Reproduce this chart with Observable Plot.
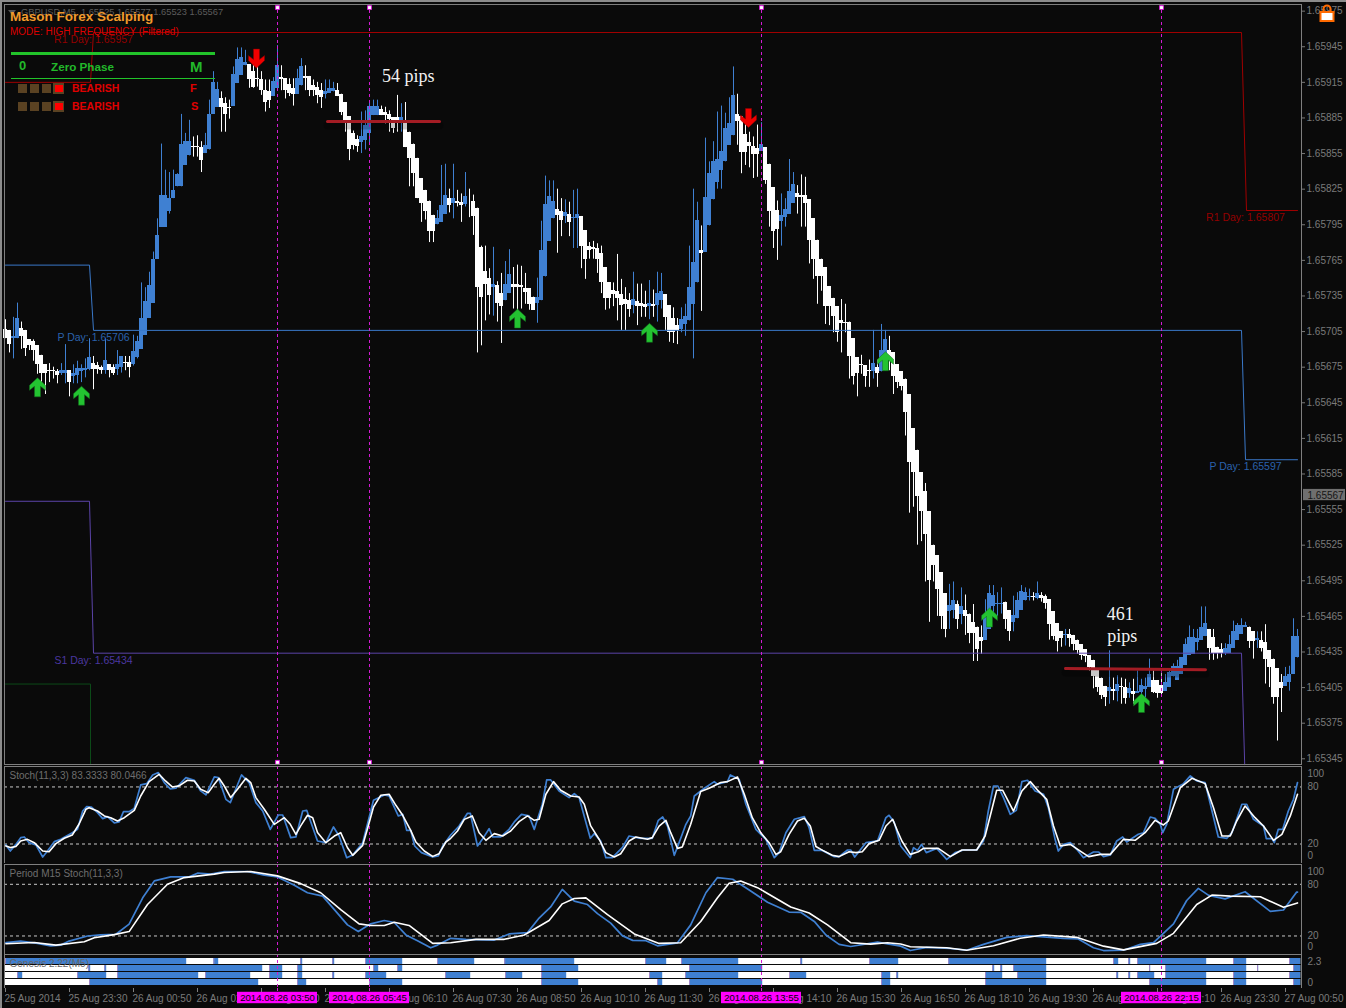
<!DOCTYPE html>
<html>
<head>
<meta charset="utf-8">
<script src="https://cdn.jsdelivr.net/npm/d3@7"></script>
<script src="https://cdn.jsdelivr.net/npm/@observablehq/plot@0.6"></script>
<style>
html,body{margin:0;padding:0;background:#0a0a0a;width:1346px;height:1008px;overflow:hidden;font-family:"Liberation Sans",Arial,sans-serif}
#chart{position:relative;width:1346px;height:1008px}
.p{position:absolute;left:0}
.t{position:absolute;white-space:nowrap;line-height:1}
.b{position:absolute}
</style>
</head>
<body>
<div id="chart"></div>
<script>
// ---- candles: points above 1.65000, one value per 5-minute bar ----
const open=[707,706,699,699,708,706,698,697,693,685,
677,672,672,671,670,670,672,667,668,671,
672,673,678,676,675,672,677,675,673,675,
679,679,677,683,690,702,716,729,766,793,
793,806,817,827,827,845,853,861,861,860,
855,858,888,894,901,897,894,895,914,921,
929,930,924,918,917,908,907,903,910,919,
918,913,910,905,912,920,920,912,911,908,
905,906,907,908,905,898,886,872,867,864,
866,872,887,887,892,890,888,885,885,883,
882,873,863,851,834,824,815,803,795,797,
804,817,813,815,814,812,815,815,809,776,
756,750,742,744,737,731,737,745,745,744,
741,741,734,729,731,751,781,800,808,806,
802,804,800,800,802,790,777,776,775,771,
759,746,740,739,736,732,731,727,730,729,
728,726,728,727,731,736,727,716,710,707,
711,714,728,746,773,772,794,816,831,841,
848,862,870,888,886,871,864,861,859,857,
860,846,826,807,798,801,804,813,821,820,
820,816,800,782,766,759,743,733,726,714,
713,713,699,683,677,676,672,671,675,671,
672,689,687,677,671,665,652,623,605,586,
570,553,525,516,502,484,469,470,475,467,
470,467,460,456,447,445,454,473,475,475,
477,470,460,463,470,478,481,482,480,483,
482,479,469,459,452,449,450,449,445,441,
437,432,428,421,413,406,402,403,402,406,
405,400,402,400,401,403,405,411,411,407,
402,405,414,411,416,424,432,433,443,445,
448,454,447,439,437,434,434,438,445,450,
456,456,452,445,445,443,436,429,421,409,
406,409,416,430];
const close=[699,694,701,716,701,691,693,689,677,670,
670,671,671,668,672,672,662,670,674,674,
674,683,673,673,672,681,672,670,677,684,
678,675,688,697,716,730,744,766,786,820,
820,817,824,837,863,865,865,860,860,849,
862,888,915,909,894,888,893,922,934,936,
932,917,911,917,908,898,900,916,929,917,
908,906,905,918,928,918,908,908,904,902,
907,910,910,903,890,882,858,862,861,869,
879,895,895,895,887,887,884,876,883,885,
860,851,838,817,813,806,789,789,800,811,
820,811,817,813,811,819,815,802,742,734,
745,735,745,729,726,745,753,742,742,742,
738,728,723,734,773,812,819,815,803,799,
805,797,801,804,777,766,773,774,766,746,
733,733,736,733,727,728,724,732,726,726,
725,729,726,737,739,717,704,704,706,715,
718,742,763,799,771,818,838,848,850,857,
876,880,904,882,856,856,861,854,854,863,
832,806,789,791,803,808,823,829,818,818,
813,782,766,751,751,726,726,718,704,712,
712,684,667,670,676,667,671,678,670,689,
698,683,667,662,659,637,595,586,566,553,
534,495,508,488,465,454,474,478,462,473,
465,451,451,437,444,464,484,483,476,476,
462,452,466,478,486,485,482,481,484,480,
476,458,448,444,446,450,446,441,436,432,
431,422,414,405,398,397,405,402,408,405,
396,404,399,402,407,406,416,401,400,400,
409,418,423,423,430,441,447,447,446,456,
459,438,434,434,434,438,441,452,457,457,
457,444,444,446,438,429,422,397,397,404,
414,416,448,448];
const high=[715,706,717,729,713,706,698,698,693,685,
677,678,675,673,678,694,672,677,680,677,
682,699,684,679,676,699,677,677,689,684,
684,684,702,701,746,742,755,772,800,863,
841,839,841,838,888,872,883,869,870,865,
872,900,924,915,907,902,900,928,944,944,
942,930,931,931,924,917,917,919,946,929,
918,918,918,926,935,929,920,917,915,914,
917,917,915,914,905,898,886,874,870,890,
891,898,900,900,895,894,891,885,904,897,
898,873,863,851,834,824,815,803,807,845,
846,825,846,824,821,839,825,820,809,777,
777,758,776,747,754,764,774,759,761,760,
754,741,734,750,798,836,832,832,825,817,
816,814,824,825,802,790,780,781,779,777,
759,746,746,770,749,742,737,755,745,745,
739,748,740,755,754,736,727,725,716,725,
728,777,825,814,794,868,848,865,890,895,
889,902,928,905,886,880,873,869,879,881,
860,846,826,815,821,817,850,839,828,837,
835,816,800,782,766,759,743,733,726,732,
728,713,699,683,685,676,681,706,681,711,
706,701,687,677,671,665,652,623,605,586,
577,553,525,516,502,484,492,494,478,489,
483,467,475,456,457,479,491,491,485,489,
477,470,482,485,491,489,488,485,494,485,
483,479,469,459,452,454,454,449,445,441,
437,432,428,421,413,406,436,413,415,413,
412,409,412,419,412,413,429,419,411,417,
416,419,425,428,430,446,457,454,454,473,
473,454,454,439,442,442,449,461,459,463,
460,456,452,452,452,458,436,429,421,416,
422,423,463,454];
const low=[699,687,682,699,690,684,689,680,669,662,
652,662,665,661,668,661,650,661,661,662,
666,672,656,669,669,669,666,668,668,670,
672,666,676,682,690,702,716,729,766,793,
793,804,817,827,827,845,853,852,852,839,
855,858,888,894,873,873,884,895,914,921,
929,910,910,911,904,890,893,903,910,908,
901,903,895,905,912,908,903,903,897,893,
901,906,907,903,887,873,849,858,856,855,
858,863,887,887,887,880,873,872,873,873,
860,827,827,817,797,799,780,780,795,797,
804,805,800,810,797,810,801,786,687,693,
714,719,718,713,695,731,737,724,723,724,
728,723,723,712,731,751,781,800,771,785,
796,785,775,775,758,749,766,766,754,737,
723,724,726,714,706,706,717,720,710,717,
717,715,717,713,724,706,696,695,694,704,
701,714,682,746,722,772,794,816,825,825,
848,862,870,862,838,845,843,834,835,857,
829,793,775,765,777,793,804,813,804,793,
793,762,749,728,739,711,710,704,696,687,
704,665,660,650,669,658,658,665,658,671,
672,672,652,657,655,617,552,557,525,528,
494,460,494,465,454,447,454,463,454,458,
449,442,427,427,433,445,454,467,465,467,
454,444,452,463,470,478,478,478,479,477,
471,445,445,435,439,440,439,436,433,428,
426,419,404,401,395,389,391,394,393,391,
391,396,391,400,398,396,405,400,396,397,
402,405,414,411,416,424,432,433,436,445,
448,428,428,429,430,432,434,438,445,450,
456,438,429,438,435,408,405,391,360,384,
406,402,416,430];

// price axis, bars of the pivots, arrows, time labels
const priceTicks=[345,375,405,435,465,495,525,555,585,615,645,675,705,735,765,795,825,855,885,915,945,975];
const r1Bars=[0,21.25,22,309,310.25,323], r1Price=[915,915,957,957,807,807];
const pBars=[0,21,22,309,310,323], pPrice=[761,761,706,706,597,597];
const s1Bars=[0,21,22,309,309.8], s1Price=[562,562,434,434,340];
const s2Bars=[0,21.25,21.25], s2Price=[408,408,340];
const pivotText=["R1 Day: 1.65957","R1 Day: 1.65807","P Day: 1.65706","P Day: 1.65597","S1 Day: 1.65434"];
const pivotTextBars=[22,310,22,310,22];
const pivotTextPrice=[957,807,706,597,434];
const pivotTextColor=["#930000","#930000","#2a62ad","#2a62ad","#4a37a0"];
const upArrowBars=[8,19,128,161,220,246,284], upArrowPrice=[658,651,716,704,680,464,392];
const downArrowBars=[62.75,185.75], downArrowPrice=[935,885];
const trendA={bars:[80.5,108.5],price:[882,882]};
const trendB={bars:[265,300],price:[421,420]};
const noteText=["54 pips","461","pips"], noteBars=[100.7,278.7,279.2], notePrice=[920,467,448];
const sessionBars=[68,91,189,289];
const sessionText=["2014.08.26 03:50","2014.08.26 05:45","2014.08.26 13:55","2014.08.26 22:15"];
const timeBars=[0,16,32,48,64,80,96,112,128,144,160,176,192,208,224,240,256,272,288,304,320];
const timeText=["25 Aug 2014","25 Aug 23:30","26 Aug 00:50","26 Aug 02:10","26 Aug 03:30","26 Aug 04:50","26 Aug 06:10","26 Aug 07:30","26 Aug 08:50","26 Aug 10:10","26 Aug 11:30","26 Aug 12:50","26 Aug 14:10","26 Aug 15:30","26 Aug 16:50","26 Aug 18:10","26 Aug 19:30","26 Aug 20:50","26 Aug 22:10","26 Aug 23:30","27 Aug 00:50"];

// Stoch(11,3,3)
const kBars=[0.1,1.2,2.6,3.8,4.7,5.9,7.6,9.3,10.5,12.2,13.8,16.7,18,19.3,20.3,21.5,23,24.3,25.5,27.2,28.4,29.5,30.9,32.2,33.8,35.3,36.8,38.2,39.7,41.2,42.6,45.1,47.2,48.8,50.1,52.2,53.2,55.1,56.2,59,60.9,62.6,64.3,66.2,68.2,69.3,71.3,72.6,74.3,75.3,78,80.1,82,83.4,85.3,86.8,89.3,92,94.7,95.9,98.2,99.3,100.3,101.3,102.3,104,106.8,108.2,109.3,111.3,113.4,115.5,116.2,118,119.2,120.9,121.8,123.8,125.9,127.2,129,130.9,132.2,134.2,135.3,136.3,138.4,140.9,142.2,143.4,146.2,147.2,148.8,150.1,151.7,154.2,155.9,158.8,161.7,163.2,164.3,165.5,167.2,168.4,170.1,171.3,172.2,174.7,177.2,178,180.5,181.2,183.4,185.1,187.6,190.1,192.2,193.4,195.1,197.2,199.7,200.9,202.2,204.2,207.2,208.4,210.5,211.3,212.3,215.1,218,220.1,220.9,222.2,223.8,226.2,227,228,229,230.2,232.8,235.3,237.4,239.5,242.8,244.5,245.7,247,248.1,249.5,251.2,252.7,254.1,255.5,257.4,259.5,260.7,262.4,263.2,264.5,266.2,267.8,269.5,272,273.3,274.5,276.2,277.8,279.3,280.3,283.2,284.5,286.2,287.4,288.7,289.3,290.3,292,294.5,296.2,297.8,299.9,303.2,305.3,306.6,309.1,310.3,312,314.5,315.2,316.6,317.2,318.2,319.3,320.7,322,323];
const kVal=[19,12.6,19.6,26.7,27.4,21.4,19,6.3,12.6,22.5,24.9,31.9,35.4,54.7,59.3,58.9,53,46.7,48.8,42.1,43.2,54,54,57.5,82.1,83.5,92.6,95.1,84.6,77.9,78.6,89.8,87,75.8,71.6,90.5,89.8,67,63.5,92.6,84.6,63.5,54.7,35.4,50.5,50.5,26.7,27.4,54.7,55.4,23.2,21.4,37.9,28.4,5.6,8.4,21.4,66,71.6,70.5,49.5,51.2,34.4,34.4,17.9,10.9,6.3,7.4,17.9,29.5,38.9,52.3,52.3,17.9,24.9,36.1,27.4,27.4,35.4,43.2,51.2,49.5,35.4,61.8,87.4,87.4,75.8,68.8,73,68.8,26,30.9,23.2,5.6,5.6,16.1,28.4,26,26,44.9,48.4,38.9,8.1,21.4,40.7,49.5,70.5,78.6,85.6,82.8,85.6,92.6,88.1,61.8,35.4,24.9,5.6,10.9,31.9,46,48.8,37.2,13.3,13.3,6.7,6.7,13.7,13.7,6.3,21.4,23.2,47.7,50.2,42.5,17.9,5.6,16.1,13.3,19.6,10.9,15.4,3.9,10.9,13.7,13.7,23.2,54.7,81,81,68.8,51.2,55.4,85.6,87,75.8,72.3,58.2,24.9,12.6,19.6,21.4,14.4,5.6,11.6,11.6,6.7,8.4,23.2,27.4,22.1,30.2,31.9,48.4,47,40.7,31.9,40.7,77.5,83.5,91.6,86.3,84.6,27.4,26,31.9,61.8,61.8,46,38.9,25.6,25.6,21.4,35.4,35.4,54.7,67,84.6];
const dBars=[0.1,1.2,2.6,3.8,5.5,7.2,9.3,10.9,12.6,14.7,16.7,18.4,20.1,20.9,23,24.7,26.3,28,29.7,32.2,33.8,35.9,38.4,40,41.7,43.4,45.5,47.2,48.8,50.7,52.2,53.4,54.7,56.3,58,60.1,61.3,62.6,64.7,67.2,69.7,71.2,72.6,73.8,75.5,76.8,78,80.1,82.2,83.8,85.5,86.8,89.3,90.5,92,93.8,95.9,97.6,99.3,101.3,102.6,104.7,106.8,108.4,110.1,111.3,113,114.7,116.7,118.4,120.1,122.2,124.3,126.3,128.4,130.5,132.2,133.4,135.1,137,138.8,141.3,143.4,144.7,146.3,148.4,150.1,152.2,153.8,155.9,157.6,160.5,161.7,163.4,165.1,166.3,168,169.2,171.3,173.8,175.9,178.8,180.5,183,184.7,186.7,188.8,190.9,192.6,193.8,195.9,198,199.7,201.2,202.6,204.3,206.7,208.4,210.9,212.6,214.2,215.9,218.4,220.1,221.8,223,224.1,226.2,228.2,229.5,233.2,236.2,239.1,242.8,244.9,246.6,247.8,249.3,252,254.1,256.2,258.2,260.3,262,263.7,266.2,268.7,270.8,273.7,276.2,279.5,282.4,284.9,287.4,289.5,290.7,293.7,296.6,299.9,302,304.1,306.2,307.8,309.9,312.4,314.5,317,319.1,321.2,323];
const dVal=[18,16.2,17.3,23.2,24.9,21.4,12.6,11.9,20.4,26,29.5,41,56.5,58.2,54.7,49.5,47.7,44.2,47.7,55.4,70.5,85.6,93.3,86.3,80,81.1,87,86.3,77.5,74,82.8,89.1,81,68.8,77.5,89.1,84.6,68.8,56.5,40.7,47.7,40.7,30.2,39,50.2,47.7,32,21.4,28.4,31.9,16.1,8.1,18.6,36.1,58.9,71.2,72.3,60.7,50.2,34.4,22.1,12.6,7,9.8,22.1,26,33.7,45.9,49.5,31.9,23.9,30.9,28.4,33.7,43.5,49.5,44.9,46,72.3,85.6,76.5,70.5,69.5,61.8,39,25,10.9,6.3,9.8,23.2,27.4,25,26.7,38.9,44.9,31.9,15.4,16.8,40.7,75.1,78.6,84.6,85.6,90.5,72.3,47.7,31.9,21.4,9.1,11.9,30.2,44.2,47,39,17.3,13.3,8.1,6.7,11.9,10.9,11.9,20.4,23.9,38.9,46,33.7,23.2,9.1,11.9,15.4,15.4,6.7,13.7,13.7,28.4,56.5,76.5,76.5,54.7,75.8,85.6,75.8,67,39,17.9,19.6,12.6,6.7,9.1,9.1,24.9,23.9,31.9,44.9,40,44.2,79.3,89.1,83.5,58.2,28.4,28.4,44.2,60,47.7,38.9,23.9,30.2,49.5,72.3];

// Period M15 Stoch(11,3,3)
const mkBars=[0.1,3.8,8,11.3,13.8,15.9,20.5,23.8,27.6,30.9,34.3,37.2,41.3,45.9,48,51.3,54.7,60.5,64.7,68,72.2,75.5,79.3,85.5,88.2,91.3,94.7,97.2,100.1,103,106.3,108,111.3,115.1,122.2,125.9,130.5,133.4,136.3,139.2,142.2,145.5,148,151.3,154.2,156.8,160.1,163,168,171.3,175.1,178,181.8,186.3,190.5,195.9,198.8,202.2,205.1,208.4,211.3,218,223.8,226.2,230.3,236.2,240.3,244.5,250.3,255.3,264.5,268.2,272,274.5,279.5,283.7,287,292,295.3,298.2,300.8,304.9,309.9,316.2,319.5,322.8,323];
const mkVal=[12.2,14.1,11.4,8.6,9.4,14.1,20,21.2,22,33.7,64.3,83.9,88.6,88.6,92.9,91.8,94.9,94.9,90.6,88.6,78.8,70.2,66.3,32.9,25.1,34.1,38,35.7,21.2,14.5,6.3,9.4,17.3,16.1,15.3,22.4,23.9,40.8,53.7,74.1,60.4,56.5,45.9,34.9,20.4,14.9,14.5,8.6,12.1,32.9,70.2,87.8,85.9,72.2,59.2,47.8,47.5,36.9,21.2,10.2,7.8,12.9,8.2,3.1,6.7,5.5,3.5,10.2,18.4,20.4,17.3,16.5,6.3,3.1,3.5,10.2,12.2,34.1,61.2,75.3,67.1,63.1,71.4,48.6,50.2,71,71];
const mdBars=[0.1,7.2,12.6,19.7,22.2,27.2,30.9,35.5,40.5,44.7,52.2,54.7,61.3,68,73.8,78.8,83.8,88.4,91.3,94.7,97.2,100.9,106.8,111.3,117.6,124.7,129.7,135.9,139.2,142.2,145.1,150.5,157.2,163.4,168.8,173.8,178,180.9,183.8,188,196.3,200.9,205.5,211.3,216.3,220.5,223.8,226.2,235.3,240.3,247,253.7,259.5,267.8,274.5,279.5,287.8,292,297.8,301.6,306.2,313.7,319.5,323];
const mdVal=[11,12.5,9.4,13.3,18,21.6,25.1,56.5,80,87.8,91.8,93.7,94.9,89.8,80.8,70.2,50.6,34.1,32.2,32.2,36,32.2,11.4,12.2,16.1,16.1,21.2,38,57.3,63.5,64.3,44.7,22.4,11.4,12.2,36.9,64.3,81.2,83.9,76.1,53.7,46.7,32.9,12.2,10.6,12.2,10.6,7.5,6.3,3.5,8.6,17.3,21.2,18.4,8.2,3.9,11.4,23.1,56.5,67.5,66.3,65.5,53.3,58.4];

// Genesis 2.22(M5): bar ranges where each row is blue
const row0Start=[0,52.1,73.8,81.8,90,108,124.8,160,169,198.8,216,235.8,277,280.8,283,307,321];
const row0End=[45.3,53.3,74.3,82.3,99.3,117.3,142.3,165.3,183.3,199.3,223.3,260.3,278.3,281.3,300.3,310.3,323.8];
const row1Start=[20.8,24.8,28,66,73,92,98,134,171,246.8,248.8,252,286,290,313,322];
const row1End=[21.3,25.3,64.3,69.3,74.3,93.3,99.3,143.3,189.3,247.3,249.3,260.3,286.3,310.3,313.3,323.8];
const row2Start=[3,18,28,50,66,73,81.8,90,110,125,134,161,170,196,219,222.8,245,253,277.8,280.8,283,290,307,321];
const row2End=[4.3,25.3,48.3,61.3,69.3,74.3,82.3,95.3,116.3,129.3,140.3,164.3,183.3,200.3,221.3,223.3,249.3,260.3,278.3,281.3,287.3,300.3,310.3,323.8];
const row3Start=[21,73,91,134,163,171,219,245,286,307,322];
const row3End=[63.3,75.3,99.3,143.3,164.3,189.3,221.3,260.3,300.3,310.3,323.8];

// ---- styles ----
const BG="#0a0a0a",BLUE="#3f80d2",WHITE="#ffffff",GREY="#7f7f7f",TXT="#7a7a7a",MAG="#d41ad4";
const FONT='"Liberation Sans",Arial,sans-serif';
const W=1346, xDomain=[-0.25,324];
const px=v=>1.65+v/1e5;
const zip=(b,p)=>b.map((x,k)=>({x,y:px(p[k])}));
const pairs=(b,v)=>b.map((x,k)=>({x,y:v[k]}));
const bars=open.map((o,i)=>({i,open:px(o),close:px(close[i]),high:px(high[i]),low:px(low[i])}));
const up=bars.filter(d=>d.close>d.open), down=bars.filter(d=>d.close<=d.open);
const base={width:W,marginLeft:4,marginRight:45,style:{background:"transparent",fontFamily:FONT}};
const chart=document.getElementById("chart");
function place(svg,top){const d=document.createElement("div");d.className="p";d.style.top=top+"px";d.appendChild(svg);chart.appendChild(d);}

const upGlyph={draw(c){c.moveTo(0,-9.5);c.lineTo(8,-2);c.lineTo(8,3);c.lineTo(3,-1);c.lineTo(3,9.5);c.lineTo(-3,9.5);c.lineTo(-3,-1);c.lineTo(-8,3);c.lineTo(-8,-2);c.closePath();}};
const downGlyph={draw(c){c.moveTo(0,9.5);c.lineTo(8,2);c.lineTo(8,-3);c.lineTo(3,1);c.lineTo(3,-9.5);c.lineTo(-3,-9.5);c.lineTo(-3,1);c.lineTo(-8,-3);c.lineTo(-8,2);c.closePath();}};
const sessionRule=()=>Plot.ruleX(sessionBars,{stroke:MAG,strokeWidth:1,strokeDasharray:"3,3"});

// ---- main price panel ----
const pivotLabels=pivotText.map((t,k)=>({t,x:pivotTextBars[k],y:px(pivotTextPrice[k]),c:pivotTextColor[k]}));
const labelMark=c=>Plot.text(pivotLabels.filter(d=>d.c===c),{x:"x",y:"y",text:"t",fill:c,fontSize:10.5,dy:7});
place(Plot.plot({...base,height:768,marginTop:4,marginBottom:4,
  x:{domain:xDomain,axis:null},
  y:{domain:[px(340.2),px(980.6)],axis:null},
  marks:[
    Plot.ruleX(up,{x:"i",y1:"low",y2:"high",stroke:BLUE,strokeWidth:1}),
    Plot.ruleX(down,{x:"i",y1:"low",y2:"high",stroke:WHITE,strokeWidth:1}),
    Plot.rect(up,{x1:d=>d.i-.5,x2:d=>d.i+.5,y1:"open",y2:"close",fill:BLUE,shapeRendering:"crispEdges"}),
    Plot.rect(down,{x1:d=>d.i-.5,x2:d=>d.i+.5,y1:"open",y2:"close",fill:WHITE,shapeRendering:"crispEdges"}),
    Plot.line(zip(r1Bars,r1Price),{x:"x",y:"y",stroke:"#a00000",strokeWidth:1}),
    Plot.line(zip(pBars,pPrice),{x:"x",y:"y",stroke:"#3a78c8",strokeWidth:1}),
    Plot.line(zip(s1Bars,s1Price),{x:"x",y:"y",stroke:"#5b44a8",strokeWidth:1}),
    Plot.line(zip(s2Bars,s2Price),{x:"x",y:"y",stroke:"#0c4a18",strokeWidth:1}),
    labelMark("#930000"),labelMark("#2a62ad"),labelMark("#4a37a0"),
    sessionRule(),
    Plot.dot(sessionBars.flatMap(x=>[{x,y:px(978)},{x,y:px(342)}]),{x:"x",y:"y",symbol:"square",r:2.2,fill:WHITE,stroke:MAG,strokeWidth:1}),
    Plot.line(zip(trendA.bars,trendA.price),{x:"x",y:"y",stroke:"#000",strokeOpacity:.22,strokeWidth:8,dy:4}),
    Plot.line(zip(trendB.bars,trendB.price),{x:"x",y:"y",stroke:"#000",strokeOpacity:.22,strokeWidth:8,dy:4}),
    Plot.line(zip(trendA.bars,trendA.price),{x:"x",y:"y",stroke:"#a31c24",strokeWidth:3}),
    Plot.line(zip(trendB.bars,trendB.price),{x:"x",y:"y",stroke:"#a31c24",strokeWidth:3}),
    Plot.dot(zip(upArrowBars,upArrowPrice),{x:"x",y:"y",symbol:upGlyph,r:5,fill:"#23c331",stroke:"#136b1c",strokeWidth:.5}),
    Plot.dot(zip(downArrowBars,downArrowPrice),{x:"x",y:"y",symbol:downGlyph,r:5,fill:"#f00000",stroke:"#8a0000",strokeWidth:.5}),
    Plot.text(noteText.map((t,k)=>({t,x:noteBars[k],y:px(notePrice[k])})),{x:"x",y:"y",text:"t",fill:"#f2f2f2",fontFamily:'"Liberation Serif",serif',fontSize:18}),
    Plot.frame({stroke:GREY}),
    Plot.axisY(priceTicks.map(px),{anchor:"right",tickFormat:d=>d.toFixed(5),tickSize:3,tickPadding:2,fontSize:10,color:TXT,label:null}),
    Plot.rect([{}],{x1:()=>324.5,x2:()=>335,y1:()=>px(572),y2:()=>px(562.5),fill:"#6f6f6f"}),
    Plot.text(["1.65567"],{x:()=>324.75,y:()=>px(567),text:d=>d,fill:"#161616",fontSize:10,textAnchor:"start",dx:3})
  ]}),0);

// ---- oscillator panels ----
function osc(top,height,title,kx,ky,dx,dy,y0Top,labelDy){
  const ticks=[100,80,20,0];
  place(Plot.plot({...base,height,marginTop:0,marginBottom:0,
    x:{domain:xDomain,axis:null},
    y:{domain:y0Top,axis:null},
    marks:[
      Plot.ruleY([80,20],{stroke:"#c8c8c8",strokeWidth:1,strokeDasharray:"3,3"}),
      sessionRule(),
      Plot.line(pairs(kx,ky),{x:"x",y:"y",stroke:BLUE,strokeWidth:1.7}),
      Plot.line(pairs(dx,dy),{x:"x",y:"y",stroke:WHITE,strokeWidth:1.6}),
      Plot.frame({stroke:GREY}),
      Plot.text([title],{frameAnchor:"top-left",dx:5,dy:5,fill:"#6e6e6e",fontSize:10,text:d=>d}),
      ...ticks.map((t,k)=>Plot.text([t],{x:()=>324,y:d=>d,text:d=>String(d),dx:6,dy:labelDy[k],textAnchor:"start",fill:TXT,fontSize:10}))
    ]}),top);
}
osc(766,97,"Stoch(11,3,3) 83.3333 80.0466",kBars,kVal,dBars,dVal,[-0.5,101.5],[6,0,0,-7]);
osc(864,90,"Period M15 Stoch(11,3,3)",mkBars,mkVal,mdBars,mdVal,[-1.5,103],[5,0,0,-6]);

// ---- Genesis strip ----
const rows=[0,1,2,3];
const segs=[[row0Start,row0End],[row1Start,row1End],[row2Start,row2End],[row3Start,row3End]]
  .flatMap(([s,e],row)=>s.map((x1,k)=>({row,x1,x2:e[k]})));
place(Plot.plot({...base,height:34,marginTop:0,marginBottom:0,
  x:{domain:xDomain,axis:null},
  y:{type:"band",domain:rows,range:[4,32],paddingInner:.14,paddingOuter:0,axis:null},
  marks:[
    Plot.barX(rows,{x1:()=>0,x2:()=>323.8,y:d=>d,fill:WHITE}),
    Plot.barX(segs,{x1:"x1",x2:"x2",y:"row",fill:BLUE}),
    Plot.tickX(segs,{x:"x1",y:"row",stroke:"#9d86c9",strokeWidth:1}),
    sessionRule(),
    Plot.frame({stroke:GREY}),
    Plot.text(["Genesis 2.22(M5)"],{frameAnchor:"top-left",dx:5,dy:5,fill:"#666",fontSize:10,text:d=>d}),
    Plot.text([{r:0,t:"2.3"},{r:3,t:"0"}],{x:()=>324,y:"r",text:"t",dx:6,textAnchor:"start",fill:TXT,fontSize:10})
  ]}),954);

// ---- time axis ----
const sessions=sessionBars.map((x,k)=>({x,t:sessionText[k]}));
const times=timeBars.map((x,k)=>({x,t:timeText[k]}));
place(Plot.plot({...base,height:20,marginTop:0,marginBottom:0,
  x:{domain:xDomain,axis:null},
  y:{domain:[0,1],range:[0,20],axis:null},
  marks:[
    Plot.ruleX(times,{x:"x",y1:()=>0,y2:()=>.2,stroke:GREY}),
    Plot.text(times,{x:"x",y:()=>.49,text:"t",textAnchor:"start",dx:-1,fill:TXT,fontSize:10}),
    Plot.ruleX(sessionBars,{y1:()=>0,y2:()=>.2,stroke:MAG,strokeDasharray:"3,3"}),
    Plot.rect(sessions,{x1:d=>d.x-10,x2:d=>d.x+10,y1:()=>.19,y2:()=>.76,fill:"#ff00ff"}),
    Plot.text(sessions,{x:"x",y:()=>.49,text:"t",fill:"#000",fontSize:9.6})
  ]}),988);

// ---- window chrome and on-chart dashboard ----
const html=`
<div class="b" style="left:0;top:0;width:1346px;height:2px;background:#8c8c8c"></div>
<div class="b" style="left:0;top:0;width:2px;height:1008px;background:#8c8c8c"></div>
<div class="t" style="left:8px;top:10px;width:0;height:0;border-left:4px solid transparent;border-right:4px solid transparent;border-top:5px solid #555"></div>
<div class="t" style="left:21px;top:8px;font-size:9.3px;color:#5c5c5c">GBPUSD,M5&nbsp; 1.65525 1.65577 1.65523 1.65567</div>
<div class="t" style="left:10px;top:10px;font-size:13.5px;font-weight:bold;color:#f09a2c">Mason Forex Scalping</div>
<div class="t" style="left:10px;top:27px;font-size:10px;color:#dd0000">MODE: HIGH FREQUENCY (Filtered)</div>
<div class="b" style="left:11px;top:52px;width:204px;height:3px;background:#22c42a"></div>
<div class="t" style="left:19px;top:59px;font-size:13px;font-weight:bold;color:#22b82a">0</div>
<div class="t" style="left:51px;top:60.5px;font-size:11.7px;font-weight:bold;color:#22b82a">Zero Phase</div>
<div class="t" style="left:190px;top:59px;font-size:15px;font-weight:bold;color:#22b82a">M</div>
<div class="b" style="left:11px;top:78px;width:204px;height:1px;background:#22c42a"></div>
<div class="t" style="left:72px;top:83px;font-size:10.5px;font-weight:bold;color:#e00000">BEARISH</div>
<div class="t" style="left:190px;top:83px;font-size:11px;font-weight:bold;color:#e00000">F</div>
<div class="t" style="left:72px;top:101px;font-size:10.5px;font-weight:bold;color:#e00000">BEARISH</div>
<div class="t" style="left:191px;top:101px;font-size:11px;font-weight:bold;color:#e00000">S</div>
${[84,102].map(t=>[18,30,42].map(l=>`<div class="b" style="left:${l}px;top:${t}px;width:9px;height:9px;background:#5a4222"></div>`).join("")
 +`<div class="b" style="left:53px;top:${t-1}px;width:11px;height:11px;background:#5a4222"></div><div class="b" style="left:55px;top:${t+1}px;width:8px;height:7px;background:#ff0000"></div>`).join("")}
<svg class="b" style="left:1319px;top:4px" width="16" height="18" viewBox="0 0 16 18">
<path d="M4.5 8V5a3.5 3.5 0 0 1 7 0v3" fill="none" stroke="#ff6a00" stroke-width="2"/>
<rect x="1.5" y="8" width="13" height="9" fill="#fff" stroke="#ff6a00" stroke-width="2"/></svg>`;
const overlay=document.createElement("div");overlay.innerHTML=html;chart.appendChild(overlay);
</script>
</body>
</html>
